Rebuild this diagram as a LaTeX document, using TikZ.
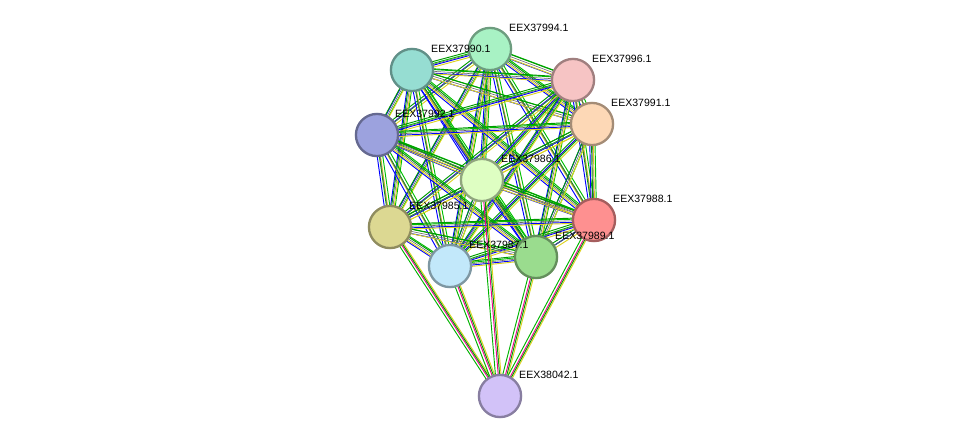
\documentclass[tikz,border=0pt]{standalone}
\usepackage{fontspec}
\setmainfont{Liberation Sans}
\usetikzlibrary{backgrounds}
\tikzset{
  prot/.style={circle, draw=#1!65!black, fill=#1, line width=2pt, minimum size=36pt, inner sep=0pt},
  plab/.style={anchor=west, font=\fontsize{9}{10}\selectfont, inner sep=0pt},
  lk/.style={line width=0.8pt}
}
\definecolor{c94}{HTML}{A8F2C4}
\definecolor{c90}{HTML}{96DDD2}
\definecolor{c96}{HTML}{F6C4C4}
\definecolor{c91}{HTML}{FDD8B6}
\definecolor{c92}{HTML}{9CA2DE}
\definecolor{c86}{HTML}{DEFEC2}
\definecolor{c88}{HTML}{FE9090}
\definecolor{c85}{HTML}{DCD892}
\definecolor{c89}{HTML}{9ADC8E}
\definecolor{c87}{HTML}{C2E8FA}
\definecolor{c42}{HTML}{D2C2F8}
\newcommand\linkedge[2]{%
  \draw[lk, green!75!black, transform canvas={shift={(2.2pt,1.4pt)}}] (#1.center) -- (#2.center);
  \draw[lk, blue, transform canvas={shift={(-2.2pt,-1.4pt)}}] (#1.center) -- (#2.center);
  \draw[lk, yellow!85!black, transform canvas={shift={(0.8pt,-2.2pt)}}] (#1.center) -- (#2.center);
  \draw[lk, green!60!black, transform canvas={shift={(-0.8pt,2.2pt)}}] (#1.center) -- (#2.center);
  \draw[line width=0.5pt, black!60] (#1.center) -- (#2.center);
}
\newcommand\lowedge[2]{%
  \draw[lk, green!70!black, transform canvas={shift={(-2.4pt,0pt)}}] (#1.center) -- (#2.center);
  \draw[lk, magenta] (#1.center) -- (#2.center);
  \draw[lk, yellow!85!black, transform canvas={shift={(2.4pt,0pt)}}] (#1.center) -- (#2.center);
  \draw[lk, green!60!black, transform canvas={shift={(1.2pt,0pt)}}] (#1.center) -- (#2.center);
}
\begin{document}
\begin{tikzpicture}[x=0.03cm, y=-0.03cm]
\useasboundingbox (0,0) rectangle (976,442);

% proteins
\foreach \id/\x/\y/\col in {94/490/49/c94, 90/412/70/c90, 96/573/80/c96, 91/592/124/c91,
    92/377/135/c92, 86/482/180/c86, 88/594/220/c88, 85/390/227/c85,
    89/536/257/c89, 87/450/266/c87, 42/500/396/c42}{
  \node[prot=\col] (p\id) at (\x,\y) {};
}
\node[plab] at ([shift={(19,-21)}]p94.center) {EEX37994.1};
\node[plab] at ([shift={(19,-21)}]p90.center) {EEX37990.1};
\node[plab] at ([shift={(19,-21)}]p96.center) {EEX37996.1};
\node[plab] at ([shift={(19,-21)}]p91.center) {EEX37991.1};
\node[plab] at ([shift={(18,-21)}]p92.center) {EEX37992.1};
\node[plab] at ([shift={(19,-21)}]p86.center) {EEX37986.1};
\node[plab] at ([shift={(19,-21)}]p88.center) {EEX37988.1};
\node[plab] at ([shift={(19,-21)}]p85.center) {EEX37985.1};
\node[plab] at ([shift={(19,-21)}]p89.center) {EEX37989.1};
\node[plab] at ([shift={(19,-21)}]p87.center) {EEX37987.1};
\node[plab] at ([shift={(19,-21)}]p42.center) {EEX38042.1};

% links
\begin{scope}[on background layer]
\foreach \a/\rest in {94/{90,96,91,92,86,88,85,89,87}, 90/{96,91,92,86,88,85,89,87},
    96/{91,92,86,88,85,89,87}, 91/{92,86,88,85,89,87}, 92/{86,88,85,89,87},
    86/{88,85,89,87}, 88/{85,89,87}, 85/{89,87}, 89/{87}}{
  \foreach \b in \rest { \linkedge{p\a}{p\b} }
}
\foreach \b in {85,87,86,89,88}{ \lowedge{p42}{p\b} }
\end{scope}
\end{tikzpicture}
\end{document}
